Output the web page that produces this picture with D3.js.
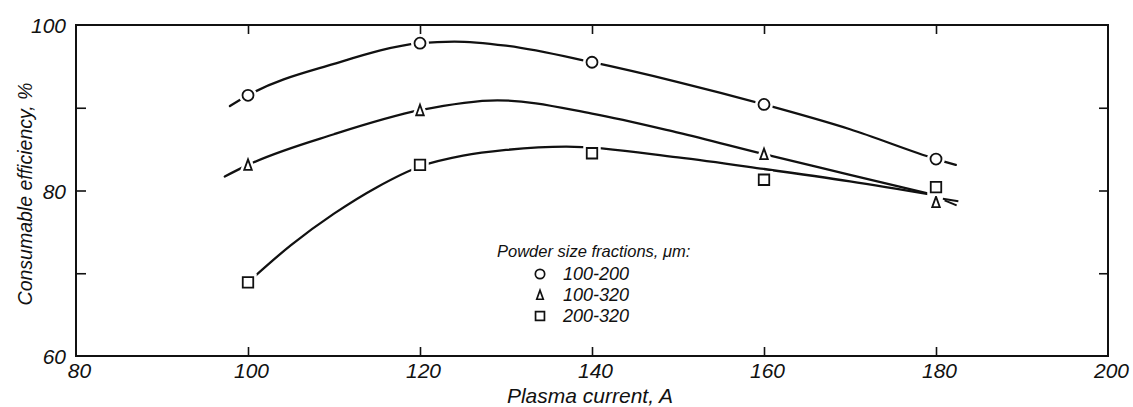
<!DOCTYPE html>
<html>
<head>
<meta charset="utf-8">
<script src="https://cdn.jsdelivr.net/npm/d3@7/dist/d3.min.js"></script>
<style>
  html, body { margin: 0; padding: 0; background: #fff; }
  svg { display: block; }
  text { font-family: "Liberation Sans", "DejaVu Sans", sans-serif; font-style: italic; fill: #111; }
</style>
</head>
<body>
<svg id="chart" width="1133" height="407"></svg>
<script>
// Plasma current, A
const xTicks = [80, 100, 120, 140, 160, 180, 200];
// Consumable efficiency, % (labelled every 20, ticked every 10)
const yTicks = [60, 70, 80, 90, 100];
const yLabelled = [60, 80, 100];

// Measured points for each powder size fraction
const currents = [100, 120, 140, 160, 180];
const eff100_200 = [91.5, 97.8, 95.5, 90.4, 83.8];
const eff100_320_x = [100, 120, 160, 180];
const eff100_320 = [83.1, 89.7, 84.4, 78.6];
const eff200_320 = [68.9, 83.1, 84.5, 81.3, 80.4];

// Hand-faired trend curves [current, efficiency]
const curve100_200 = [[97.9, 90.2], [100, 91.5], [110, 95.3], [120, 97.8], [124, 98.0], [130, 97.5], [140, 95.5], [150, 93.1], [160, 90.4], [170, 87.4], [180, 83.8], [182.3, 83.1]];
const curve100_320 = [[97.3, 81.7], [100, 83.1], [110, 86.8], [120, 89.7], [129, 90.9], [140, 89.3], [150, 87.0], [160, 84.4], [170, 81.9], [180, 79.4]];
const curve200_320 = [[100, 68.9], [105, 73.4], [110, 77.2], [115, 80.4], [120, 82.9], [125, 84.2], [130, 84.9], [137, 85.3], [150, 84.0], [160, 82.6], [170, 81.1], [180, 79.4]];
// Small pointer strokes at the right end of the 100-320 curve
const tail100_320 = [[[180.8, 79.0], [182.6, 78.7]], [[181.0, 78.8], [182.4, 78.2]]];

const legendTitle = "Powder size fractions, \u03bcm:";
const legendLabels = ["100-200", "100-320", "200-320"];

const svg = d3.select("#chart");
const x = d3.scaleLinear().domain([80, 200]).range([76, 1108]);
const y = d3.scaleLinear().domain([60, 100]).range([356, 25]);
const ink = "#111";

// Frame
svg.append("rect")
  .attr("x", x(80)).attr("y", y(100))
  .attr("width", x(200) - x(80)).attr("height", y(60) - y(100))
  .attr("fill", "none").attr("stroke", ink).attr("stroke-width", 2);

// Axes with inward ticks
const inner = xTicks.filter(d => d > 80 && d < 200);
const innerY = yTicks.filter(d => d > 60 && d < 100);

const gb = svg.append("g").attr("transform", `translate(0,${y(60)})`)
  .call(d3.axisBottom(x).tickValues(xTicks).tickSize(-9).tickPadding(7).tickFormat(d3.format("d")));
gb.selectAll(".tick line").filter(d => d === 80 || d === 200).remove();

const gt = svg.append("g").attr("transform", `translate(0,${y(100)})`)
  .call(d3.axisTop(x).tickValues(inner).tickSize(-9).tickFormat(""));

const gl = svg.append("g").attr("transform", `translate(${x(80)},0)`)
  .call(d3.axisLeft(y).tickValues(yTicks).tickSize(-10).tickPadding(10)
    .tickFormat(d => yLabelled.includes(d) ? d3.format("d")(d) : ""));
gl.selectAll(".tick line").filter(d => d === 60 || d === 100).remove();

const gr = svg.append("g").attr("transform", `translate(${x(200)},0)`)
  .call(d3.axisRight(y).tickValues(innerY).tickSize(-9).tickFormat(""));

[gb, gt, gl, gr].forEach(g => {
  g.select(".domain").remove();
  g.selectAll(".tick line").attr("stroke", ink).attr("stroke-width", 1.6);
  g.selectAll("text").attr("font-size", 21).attr("fill", ink)
    .attr("font-family", "Liberation Sans, DejaVu Sans, sans-serif").attr("font-style", "italic");
});
gb.selectAll("text").attr("dx", 3);
gl.selectAll("text").attr("dy", "0.36em");

// Axis titles
svg.append("text")
  .attr("x", 590).attr("y", 403)
  .attr("text-anchor", "middle").attr("font-size", 21)
  .attr("font-family", "DejaVu Sans, sans-serif")
  .text("Plasma current, A");
svg.append("text")
  .attr("transform", `translate(32,${194}) rotate(-90)`)
  .attr("text-anchor", "middle").attr("font-size", 19.5)
  .attr("font-family", "DejaVu Sans, sans-serif")
  .text("Consumable efficiency, %");

// Trend curves
const line = d3.line().x(d => x(d[0])).y(d => y(d[1])).curve(d3.curveMonotoneX);
[curve100_200, curve100_320, curve200_320].forEach(c => {
  svg.append("path").attr("d", line(c))
    .attr("fill", "none").attr("stroke", ink).attr("stroke-width", 2.3).attr("stroke-linecap", "round");
});
const straight = d3.line().x(d => x(d[0])).y(d => y(d[1]));
tail100_320.forEach(s => {
  svg.append("path").attr("d", straight(s))
    .attr("fill", "none").attr("stroke", ink).attr("stroke-width", 2);
});

// Marker shapes
const shapes = {
  circle: () => d3.symbol().type(d3.symbolCircle).size(95)(),
  triangle: () => "M0,-5.5L3.8,5L-3.8,5Z",
  square: () => d3.symbol().type(d3.symbolSquare).size(110)()
};
function drawMarkers(xs, ys, shape) {
  const pts = xs.map((v, i) => [v, ys[i]]);
  const path = shapes[shape]();
  const g = svg.append("g");
  // white halo breaks the curve around each marker
  g.selectAll("path.halo").data(pts).join("path")
    .attr("class", "halo")
    .attr("transform", d => `translate(${x(d[0])},${y(d[1])})`)
    .attr("d", path).attr("fill", "#fff").attr("stroke", "#fff").attr("stroke-width", 7);
  g.selectAll("path.mark").data(pts).join("path")
    .attr("class", "mark")
    .attr("transform", d => `translate(${x(d[0])},${y(d[1])})`)
    .attr("d", path).attr("fill", "#fff").attr("stroke", ink).attr("stroke-width", 1.8);
}
drawMarkers(currents, eff100_200, "circle");
drawMarkers(eff100_320_x, eff100_320, "triangle");
drawMarkers(currents, eff200_320, "square");

// Legend
const lg = svg.append("g");
lg.append("text").attr("x", 497).attr("y", 257).attr("font-size", 16.5).text(legendTitle);
const legendShapes = ["circle", "triangle", "square"];
legendLabels.forEach((lab, i) => {
  const yy = 274 + i * 21;
  lg.append("path").attr("transform", `translate(540,${yy}) scale(0.85)`)
    .attr("d", shapes[legendShapes[i]]()).attr("fill", "#fff").attr("stroke", ink).attr("stroke-width", 2);
  lg.append("text").attr("x", 563).attr("y", yy + 6).attr("font-size", 18).text(lab);
});
</script>
</body>
</html>
